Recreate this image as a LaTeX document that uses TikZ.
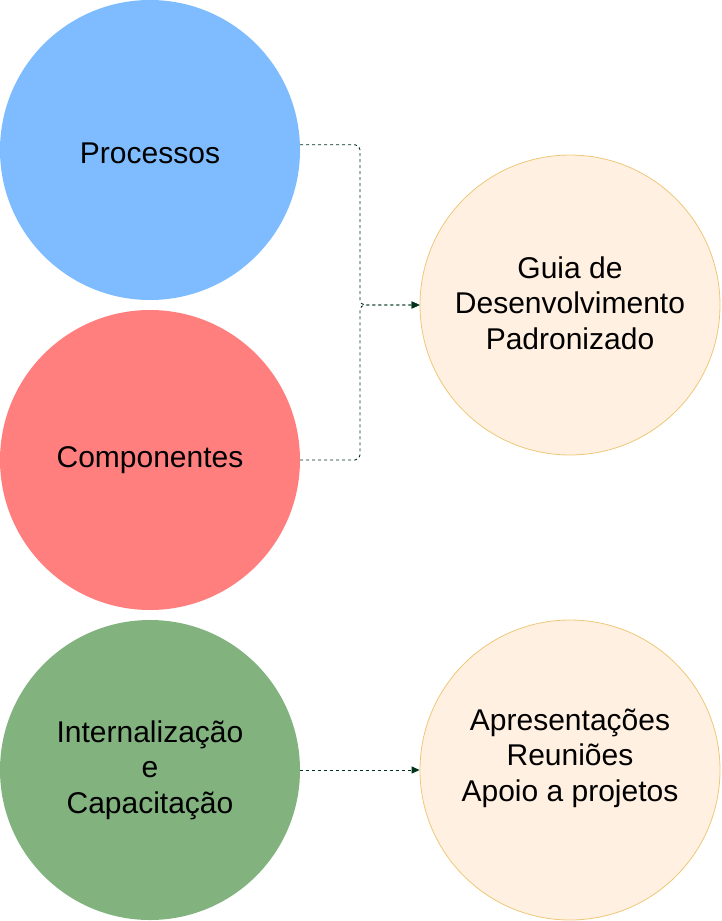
\documentclass[tikz,border=0pt]{standalone}
\usepackage{fontspec}
\setmainfont{Liberation Sans}
\usetikzlibrary{arrows.meta}

\definecolor{procblue}{RGB}{126,188,255}
\definecolor{compred}{RGB}{255,127,127}
\definecolor{capgreen}{RGB}{130,179,127}
\definecolor{guiafill}{RGB}{255,240,225}
\definecolor{guiadraw}{RGB}{238,200,120}
\definecolor{linkgreen}{RGB}{0,51,25}

\tikzset{
  bigtext/.style={align=center, font=\fontsize{30}{35.5}\selectfont},
  bigcircle/.style={circle, minimum size=300pt, inner sep=0pt, bigtext},
  goalcircle/.style={bigcircle, fill=guiafill, draw=guiadraw, line width=0.8pt},
  link/.style={draw=linkgreen, line width=0.9pt, dash pattern=on 3pt off 3pt, rounded corners=5pt, -{Triangle[length=8pt,width=7pt]}}
}

\begin{document}
\begin{tikzpicture}[x=1pt, y=-1pt]
	\pgfmathsetmacro{\xleft}{150}
	\pgfmathsetmacro{\xright}{570}
	\pgfmathsetmacro{\xmerge}{360}

	\useasboundingbox (0,0) rectangle (722,921);

	%Circles on the left
	\node [bigcircle, fill=procblue, label={[bigtext, yshift=-3pt]center:Processos}] (proc) at (\xleft,150) {};
	\node [bigcircle, fill=compred] (comp) at (\xleft,460) {Componentes};
	\node [bigcircle, fill=capgreen] (capac) at (\xleft,770) {Internaliza\c{c}\~ao\\e\\Capacita\c{c}\~ao};

	%Circles on the right
	\node [goalcircle, label={[bigtext, yshift=2pt]center:Guia de\\Desenvolvimento\\Padronizado}] (guia) at (\xright,305) {};
	\node [goalcircle, label={[bigtext, yshift=12pt]center:Apresenta\c{c}\~oes\\Reuni\~oes\\Apoio a projetos}] (apoio) at (\xright,770) {};

	\coordinate (merge) at (\xmerge,305);

	%Connectors
	\draw[link] (proc.2) -| (merge) -- (guia.west);
	\draw[link] (comp.east) -| (merge) -- (guia.west);
	\draw[link] (capac.east) -- (apoio.west);

\end{tikzpicture}
\end{document}
